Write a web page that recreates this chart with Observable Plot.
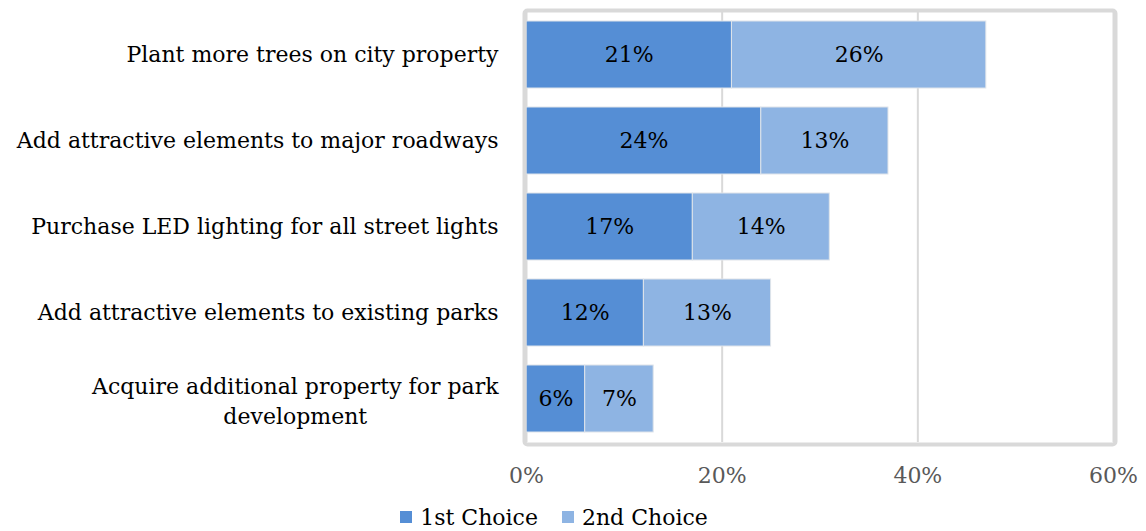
<!DOCTYPE html>
<html>
<head>
<meta charset="utf-8">
<script src="https://cdn.jsdelivr.net/npm/d3@7"></script>
<script src="https://cdn.jsdelivr.net/npm/@observablehq/plot@0.6"></script>
<style>
  html, body { margin: 0; padding: 0; background: #fff; }
  body { width: 1146px; height: 531px; overflow: hidden; font-family: "DejaVu Serif", serif; }
  #legend { display: flex; justify-content: center; align-items: center; gap: 24px; height: 36px; margin-top: 4px; margin-left: -38px; font-size: 22px; color: #000; }
  #legend .item { display: flex; align-items: center; gap: 8px; }
  #legend .sw { width: 12px; height: 12px; display: inline-block; }
</style>
</head>
<body>
<div id="chart"></div>
<div id="legend"></div>
<script>
const categories = [
  "Plant more trees on city property",
  "Add attractive elements to major roadways",
  "Purchase LED lighting for all street lights",
  "Add attractive elements to existing parks",
  "Acquire additional property for park development"
];
const categoryLabels = [
  "Plant more trees on city property",
  "Add attractive elements to major roadways",
  "Purchase LED lighting for all street lights",
  "Add attractive elements to existing parks",
  "Acquire additional property for park\ndevelopment"
];
const series = ["1st Choice", "2nd Choice"];
const firstChoice = [0.21, 0.24, 0.17, 0.12, 0.06];
const secondChoice = [0.26, 0.13, 0.14, 0.13, 0.07];
const colors = ["#558ED5", "#8EB4E3"];
const xTicks = [0, 0.2, 0.4, 0.6];

const data = [];
categories.forEach((c, i) => {
  data.push({category: c, series: series[0], value: firstChoice[i]});
  data.push({category: c, series: series[1], value: secondChoice[i]});
});

const FONT = "DejaVu Serif";
const labelSize = 22;
const pct = d3.format(".0%");

// measure text for centering multi-line labels
const ctx = document.createElement("canvas").getContext("2d");
ctx.font = `${labelSize}px "${FONT}"`;
const labelRows = categories.map((c, i) => ({category: c, label: categoryLabels[i]}));
const single = labelRows.filter(d => !d.label.includes("\n"));
const multi = labelRows.filter(d => d.label.includes("\n")).map(d => {
  const w = d3.max(d.label.split("\n"), s => ctx.measureText(s).width);
  return {...d, half: w / 2};
});
const gap = 28;

const marks = [
  Plot.gridX(xTicks, {stroke: "#d9d9d9", strokeWidth: 2, strokeOpacity: 1}),
  Plot.barX(data, Plot.stackX({x: "value", y: "category", fill: "series", stroke: "#dfe4ea", strokeWidth: 1})),
  Plot.text(data, Plot.stackX({x: "value", y: "category", text: d => pct(d.value), fill: "#000", fontSize: 22})),
  Plot.frame({stroke: "#d9d9d9", strokeWidth: 4, inset: -2, rx: 3}),
  Plot.axisX({ticks: xTicks, tickFormat: pct, tickSize: 0, tickPadding: 25, fontSize: 22, fill: "#595959", label: null}),
  Plot.text(single, {y: "category", text: "label", frameAnchor: "left", textAnchor: "end", dx: -gap, fontSize: labelSize, fill: "#000"})
];
multi.forEach(m => {
  marks.push(Plot.text([m], {y: "category", text: "label", frameAnchor: "left", textAnchor: "middle", dx: -(gap + m.half), fontSize: labelSize, fill: "#000", lineHeight: 1.36}));
});

const chart = Plot.plot({
  width: 1146,
  height: 495,
  marginLeft: 526,
  marginRight: 33,
  marginTop: 12,
  marginBottom: 53,
  style: {fontFamily: FONT, background: "#fff", overflow: "visible"},
  x: {domain: [0, 0.6], axis: null},
  y: {domain: categories, paddingInner: 0.22, paddingOuter: 0.1, axis: null},
  color: {domain: series, range: colors},
  marks
});
document.getElementById("chart").append(chart);

const legend = document.getElementById("legend");
series.forEach((s, i) => {
  const item = document.createElement("div");
  item.className = "item";
  const sw = document.createElement("span");
  sw.className = "sw";
  sw.style.background = colors[i];
  const t = document.createElement("span");
  t.textContent = s;
  item.append(sw, t);
  legend.append(item);
});
</script>
</body>
</html>
